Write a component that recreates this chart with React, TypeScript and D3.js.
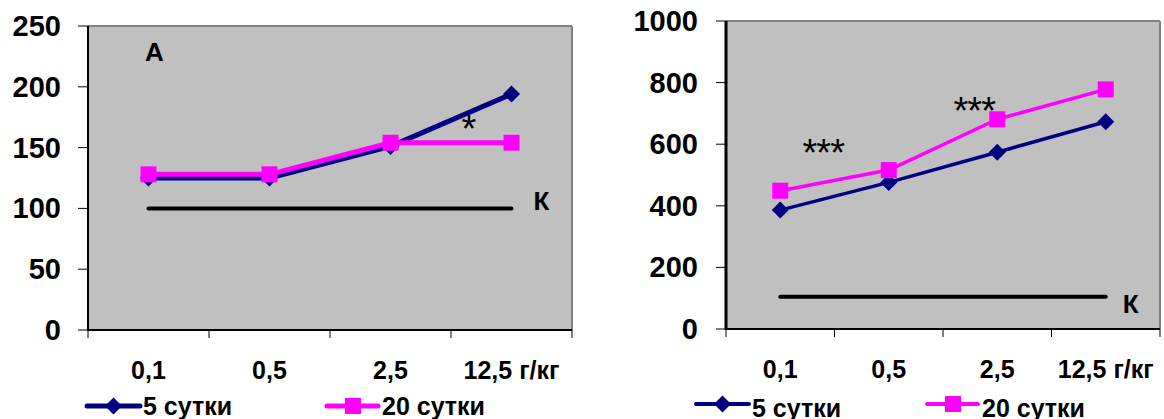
import React from 'react';
import * as d3 from 'd3';

const categories = ['0,1', '0,5', '2,5', '12,5 г/кг'];
const seriesNames = ['5 сутки', '20 сутки'];
const leftDay5 = [125, 125, 151, 194];
const leftDay20 = [128, 128, 154, 154];
const rightDay5 = [386, 476, 574, 673];
const rightDay20 = [449, 516, 681, 778];
const leftTicks = [0, 50, 100, 150, 200, 250];
const rightTicks = [0, 200, 400, 600, 800, 1000];
const leftControl = 100;
const rightControl = 105;

const BLUE = '#000080';
const PINK = '#FF00FF';
const FONT = '"Liberation Sans", Arial, sans-serif';

type PanelProps = {
  x0: number; x1: number; y0: number; y1: number;
  max: number; ticks: number[];
  day5: number[]; day20: number[]; control: number;
  lineW: number; axisW: number;
  labelRight: number;
  stars: { i: number; v: number; text: string; dx: number }[];
  letter?: string;
  kDx: number; kDy: number;
  legend: { l1: number; l2: number; y: number; textY: number; lw: number };
};

function Diamond({ cx, cy, r, color }: { cx: number; cy: number; r: number; color: string }) {
  return <path d={`M${cx},${cy - r}L${cx + r},${cy}L${cx},${cy + r}L${cx - r},${cy}Z`} fill={color} />;
}
function Square({ cx, cy, s, color }: { cx: number; cy: number; s: number; color: string }) {
  return <rect x={cx - s / 2} y={cy - s / 2} width={s} height={s} fill={color} />;
}

function Panel(p: PanelProps) {
  const x = d3.scaleBand<string>().domain(categories).range([p.x0, p.x1]).padding(0);
  const y = d3.scaleLinear().domain([0, p.max]).range([p.y1, p.y0]);
  const cx = (c: string) => (x(c) as number) + x.bandwidth() / 2;
  const line = d3.line<number>().x((_, i) => cx(categories[i])).y((v) => y(v));
  const boundaries = categories.map((c) => x(c) as number).concat([p.x1]);
  const first = cx(categories[0]);
  const last = cx(categories[categories.length - 1]);
  return (
    <g>
      <rect x={p.x0} y={p.y0} width={p.x1 - p.x0} height={p.y1 - p.y0} fill="#C0C0C0" />
      <line x1={p.x0} y1={p.y0} x2={p.x1} y2={p.y0} stroke="#808080" strokeWidth={2} />
      <line x1={p.x1} y1={p.y0} x2={p.x1} y2={p.y1} stroke="#808080" strokeWidth={2} />
      <line x1={p.x0} y1={p.y0} x2={p.x0} y2={p.y1 + 1} stroke="#000" strokeWidth={p.axisW} />
      <line x1={p.x0} y1={p.y1} x2={p.x1} y2={p.y1} stroke="#000" strokeWidth={2} />
      {p.ticks.map((t) => (
        <g key={t}>
          <line x1={p.x0 - 10} x2={p.x0} y1={y(t)} y2={y(t)} stroke="#000" strokeWidth={1} />
          <text x={p.labelRight} y={y(t) + 10} textAnchor="end" fontFamily={FONT} fontWeight="bold" fontSize={29}>{t}</text>
        </g>
      ))}
      {boundaries.map((b, i) => (
        <line key={i} x1={b} x2={b} y1={p.y1} y2={p.y1 + 8} stroke="#000" strokeWidth={1} />
      ))}
      {categories.map((c) => (
        <text key={c} x={cx(c)} y={p.y1 + 49} textAnchor="middle" fontFamily={FONT} fontWeight="bold" fontSize={25}>{c}</text>
      ))}
      <line x1={first} x2={last} y1={y(p.control)} y2={y(p.control)} stroke="#000" strokeWidth={4} strokeLinecap="round" />
      <text x={last + p.kDx} y={y(p.control) + p.kDy} textAnchor="middle" fontFamily={FONT} fontWeight="bold" fontSize={26}>К</text>
      {p.letter && (
        <text x={first + 6} y={p.y0 + 35} textAnchor="middle" fontFamily={FONT} fontWeight="bold" fontSize={26}>{p.letter}</text>
      )}
      <path d={line(p.day5) as string} fill="none" stroke={BLUE} strokeWidth={p.lineW} strokeLinejoin="round" />
      {p.day5.map((v, i) => <Diamond key={i} cx={cx(categories[i])} cy={y(v)} r={8.5} color={BLUE} />)}
      <path d={line(p.day20) as string} fill="none" stroke={PINK} strokeWidth={p.lineW} strokeLinejoin="round" />
      {p.day20.map((v, i) => <Square key={i} cx={cx(categories[i])} cy={y(v)} s={16} color={PINK} />)}
      {p.stars.map((s, k) => (
        <text key={k} x={cx(categories[s.i]) + s.dx} y={y(s.v)} textAnchor="middle" fontFamily={FONT} fontSize={38} letterSpacing={-1}>{s.text}</text>
      ))}
      <line x1={p.legend.l1} x2={p.legend.l1 + 53} y1={p.legend.y} y2={p.legend.y} stroke={BLUE} strokeWidth={p.legend.lw} strokeLinecap="round" />
      <Diamond cx={p.legend.l1 + 26.5} cy={p.legend.y} r={8.5} color={BLUE} />
      <text x={p.legend.l1 + 56} y={p.legend.textY} fontFamily={FONT} fontWeight="bold" fontSize={25}>{seriesNames[0]}</text>
      <line x1={p.legend.l2} x2={p.legend.l2 + 51} y1={p.legend.y} y2={p.legend.y} stroke={PINK} strokeWidth={p.legend.lw} strokeLinecap="round" />
      <Square cx={p.legend.l2 + 26} cy={p.legend.y} s={16} color={PINK} />
      <text x={p.legend.l2 + 55} y={p.legend.textY} fontFamily={FONT} fontWeight="bold" fontSize={25}>{seriesNames[1]}</text>
    </g>
  );
}

export default function App() {
  return (
    <svg width={1164} height={419} style={{ position: 'absolute', left: 0, top: 0, background: '#fff' }}>
      <Panel
        x0={88} x1={572} y0={26} y1={330} max={250} ticks={leftTicks}
        day5={leftDay5} day20={leftDay20} control={leftControl}
        lineW={5} axisW={2} labelRight={61}
        stars={[{ i: 2, v: 155, text: '*', dx: 78 }]}
        letter="А" kDx={30} kDy={2}
        legend={{ l1: 87, l2: 327, y: 406, textY: 415, lw: 5 }}
      />
      <Panel
        x0={726} x1={1160} y0={21} y1={329} max={1000} ticks={rightTicks}
        day5={rightDay5} day20={rightDay20} control={rightControl}
        lineW={3.5} axisW={3} labelRight={698}
        stars={[{ i: 0, v: 529, text: '***', dx: 43 }, { i: 2, v: 665, text: '***', dx: -23 }]}
        kDx={25} kDy={16}
        legend={{ l1: 696, l2: 927, y: 404, textY: 417, lw: 4 }}
      />
    </svg>
  );
}
